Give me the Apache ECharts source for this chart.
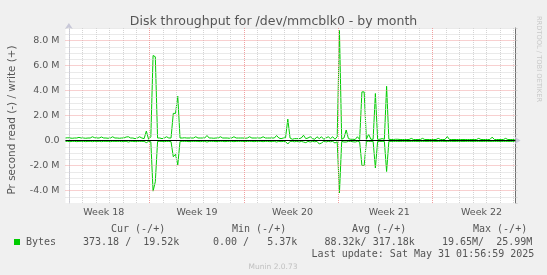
<!DOCTYPE html>
<html><head><meta charset="utf-8">
<script src="https://cdn.jsdelivr.net/npm/echarts@6.0.0/dist/echarts.min.js"></script>
<style>html,body{margin:0;padding:0;background:#f0f0f0;}#c{width:547px;height:275px;}</style>
</head><body><div id="c"></div>
<script>
// ---- text ----
const chartTitle = 'Disk throughput for /dev/mmcblk0 - by month';
const yAxisTitle = 'Pr second read (-) / write (+)';
const sideText = 'RRDTOOL / TOBI OETIKER';
const footerText = 'Munin 2.0.73';
const seriesName = 'Bytes';

// ---- axes (x in days, y in MB/s) ----
const xMin = -0.25, xMax = 33.15;
const sampleStart = -0.25, sampleStep = 1 / 6;   // one sample every 4 hours
const yMin = -5, yMax = 9, yStep = 0.5;
const dayTicks = [0,1,2,3,4,5,6,7,8,9,10,11,12,13,14,15,16,17,18,19,20,21,22,23,24,25,26,27,28,29,30,31,32,33];
const weekTicks = [6, 13, 20, 27];
const weekLabels = ['Week 18', 'Week 19', 'Week 20', 'Week 21', 'Week 22'];
const weekLabelPos = [2.59, 9.51, 16.6, 23.78, 30.63];
const yMajorTicks = [-4, -2, 0, 2, 4, 6, 8];
const yMinorTicks = [-4.5,-3.5,-3,-2.5,-1.5,-1,-0.5,0.5,1,1.5,2.5,3,3.5,4.5,5,5.5,6.5,7,7.5,8.5,9];

// ---- series values (MB/s), write positive, read negative ----
const writeM = [
 0.2,0.22,0.2,0.18,0.2,0.2,0.25,0.2,0.2,0.18,
 0.2,0.2,0.3,0.22,0.2,0.2,0.28,0.2,0.2,0.18,
 0.2,0.3,0.2,0.2,0.18,0.2,0.2,0.28,0.3,0.2,
 0.2,0.15,0.2,0.3,0.2,0.15,0.75,0.1,0.3,6.8,
 6.7,0.2,0.2,0.15,0.2,0.3,0.2,0.2,2.17,2.17,
 3.54,0.2,0.2,0.22,0.2,0.2,0.2,0.2,0.3,0.2,
 0.2,0.2,0.2,0.4,0.2,0.2,0.18,0.2,0.2,0.3,
 0.2,0.2,0.2,0.18,0.2,0.3,0.2,0.2,0.2,0.2,
 0.18,0.2,0.3,0.2,0.2,0.2,0.2,0.2,0.3,0.2,
 0.2,0.2,0.2,0.2,0.4,0.2,0.15,0.2,0.22,1.71,
 0.2,0.1,0.15,0.15,0.15,0.2,0.42,0.15,0.2,0.3,
 0.15,0.1,0.3,0.15,0.3,0.1,0.2,0.3,0.15,0.3,
 0.1,0.3,8.8,0.1,0.2,0.84,0.15,0.1,0.1,0.08,
 0.3,0.08,3.89,3.89,0.1,0.5,0.1,0.1,3.76,0.1,
 0.1,0.15,0.1,4.34,0.1,0.08,0.08,0.1,0.1,0.08,
 0.08,0.08,0.08,0.08,0.17,0.08,0.08,0.08,0.08,0.17,
 0.08,0.08,0.08,0.08,0.08,0.08,0.17,0.08,0.08,0.08,
 0.32,0.08,0.08,0.08,0.08,0.08,0.08,0.08,0.08,0.08,
 0.08,0.08,0.08,0.08,0.17,0.08,0.08,0.08,0.08,0.08,
 0.27,0.08,0.08,0.08,0.08,0.08,0.17,0.08,0.08,0.08,
 0.08
];
const readM = [
 -0.07,-0.07,-0.09,-0.07,-0.07,-0.09,-0.07,-0.07,-0.07,-0.09,
 -0.07,-0.07,-0.09,-0.07,-0.07,-0.07,-0.09,-0.07,-0.07,-0.07,
 -0.09,-0.07,-0.07,-0.07,-0.07,-0.09,-0.07,-0.07,-0.12,-0.07,
 -0.07,-0.09,-0.07,-0.07,-0.07,-0.07,-0.17,-0.07,-0.1,-4.05,
 -3.3,-0.07,-0.07,-0.07,-0.09,-0.07,-0.07,-0.09,-1.3,-1.1,
 -1.95,-0.07,-0.07,-0.07,-0.07,-0.09,-0.07,-0.07,-0.07,-0.07,
 -0.09,-0.07,-0.07,-0.12,-0.07,-0.07,-0.07,-0.09,-0.07,-0.07,
 -0.07,-0.09,-0.07,-0.07,-0.07,-0.09,-0.07,-0.07,-0.07,-0.07,
 -0.09,-0.07,-0.07,-0.07,-0.09,-0.07,-0.07,-0.07,-0.09,-0.07,
 -0.07,-0.09,-0.07,-0.07,-0.12,-0.07,-0.09,-0.07,-0.09,-0.28,
 -0.07,-0.07,-0.1,-0.07,-0.12,-0.07,-0.12,-0.17,-0.07,-0.12,
 -0.07,-0.1,-0.07,-0.28,-0.2,-0.07,-0.12,-0.07,-0.1,-0.07,
 -0.2,-0.1,-4.2,-0.07,-0.12,-0.12,-0.07,-0.07,-0.1,-0.12,
 -0.07,-0.1,-2.0,-2.0,-0.07,-0.07,-0.07,-0.07,-2.2,-0.07,
 -0.07,-0.07,-0.07,-2.48,-0.07,-0.07,-0.07,-0.07,-0.07,-0.07,
 -0.07,-0.07,-0.07,-0.07,-0.07,-0.07,-0.07,-0.07,-0.07,-0.07,
 -0.07,-0.07,-0.07,-0.07,-0.07,-0.07,-0.07,-0.07,-0.07,-0.07,
 -0.07,-0.07,-0.07,-0.07,-0.07,-0.07,-0.07,-0.07,-0.07,-0.07,
 -0.07,-0.07,-0.07,-0.07,-0.07,-0.07,-0.07,-0.07,-0.07,-0.07,
 -0.07,-0.07,-0.07,-0.07,-0.07,-0.07,-0.07,-0.07,-0.07,-0.07,
 -0.07
];

// ---- legend table ----
const legendHeaders = ['Cur (-/+)', 'Min (-/+)', 'Avg (-/+)', 'Max (-/+)'];
const legendValues = ['373.18 /  19.52k', '0.00 /   5.37k', '88.32k/ 317.18k', '19.65M/  25.99M'];
const lastUpdate = 'Last update: Sat May 31 01:56:59 2025';

// ---- styles ----
const GREEN = '#00cc00';
const TXT = '#555555';
const MONO = '"DejaVu Sans Mono", monospace';
const SANS = '"DejaVu Sans", sans-serif';

const toXY = arr => arr.map((v, i) => [sampleStart + i * sampleStep, v]);

const minorLine = { color: '#d4d4d4', type: [1, 1], width: 1 };
const majorLine = { color: '#f0a0a0', type: [1, 1], width: 1 };
const gridLines = []
  .concat(dayTicks.filter(d => weekTicks.indexOf(d) < 0).map(d => ({ xAxis: d, lineStyle: minorLine })))
  .concat(yMinorTicks.map(v => ({ yAxis: v, lineStyle: minorLine })))
  .concat(weekTicks.map(d => ({ xAxis: d, lineStyle: majorLine })))
  .concat(yMajorTicks.filter(v => v !== 0).map(v => ({ yAxis: v, lineStyle: majorLine })));

const chart = echarts.init(document.getElementById('c'), null, { renderer: 'canvas' });
const option = {
  animation: false,
  backgroundColor: '#f0f0f0',
  color: [GREEN],
  title: {
    text: chartTitle, left: 'center', top: 10,
    textStyle: { fontFamily: SANS, fontSize: 12.5, fontWeight: 'normal', color: TXT }
  },
  grid: { left: 65.5, right: 31.5, top: 28, bottom: 72, show: true, backgroundColor: '#ffffff', borderWidth: 0 },
  xAxis: {
    type: 'value', min: xMin, max: xMax,
    axisLine: { show: true, lineStyle: { color: '#c8c8d8', width: 1 }, symbol: ['none', 'arrow'], symbolSize: [6, 6], symbolOffset: [0, 5] },
    axisTick: { show: true, customValues: dayTicks, length: 2, inside: false, lineStyle: { color: '#cccccc' } },
    axisLabel: {
      customValues: weekLabelPos, margin: 5, fontFamily: SANS, fontSize: 9.5, color: TXT,
      formatter: v => {
        let bi = 0, bd = 1e9;
        weekLabelPos.forEach((p, i) => { const d = Math.abs(p - v); if (d < bd) { bd = d; bi = i; } });
        return weekLabels[bi];
      }
    },
    splitLine: { show: false }
  },
  yAxis: [
    {
      type: 'value', min: yMin, max: yMax, interval: yStep,
      axisLine: { show: true, lineStyle: { color: '#c8c8d8', width: 1 }, symbol: ['none', 'arrow'], symbolSize: [6, 6], symbolOffset: [0, 5] },
      axisTick: { show: false },
      axisLabel: {
        margin: 6, fontFamily: SANS, fontSize: 9.5, color: TXT,
        formatter: v => (Math.abs(v % 2) < 1e-9 ? (v === 0 ? '0.0' : v.toFixed(1) + ' M') : '')
      },
      splitLine: { show: false }
    },
    {
      type: 'value', position: 'right', min: yMin, max: yMax, interval: yStep,
      axisLine: { show: true, onZero: false, lineStyle: { color: '#707070', width: 1 } },
      axisTick: { show: true, inside: false, length: 2, lineStyle: { color: '#d0d0d0' } },
      axisLabel: { show: false },
      splitLine: { show: false }
    }
  ],
  series: [
    {
      type: 'line', name: 'grid', data: [[xMin, 0]], showSymbol: false, silent: true, z: 1,
      lineStyle: { opacity: 0 },
      markLine: { silent: true, symbol: ['none', 'none'], label: { show: false }, animation: false, data: gridLines }
    },
    {
      type: 'line', name: seriesName + ' write', data: toXY(writeM), showSymbol: false, z: 2,
      lineStyle: { color: GREEN, width: 1 }, itemStyle: { color: GREEN }
    },
    {
      type: 'line', name: seriesName + ' read', data: toXY(readM), showSymbol: false, z: 2,
      lineStyle: { color: GREEN, width: 1 }, itemStyle: { color: GREEN }
    },
    {
      type: 'line', name: 'rules', data: [[xMin, 0]], showSymbol: false, silent: true, z: 3,
      lineStyle: { opacity: 0 },
      markLine: {
        silent: true, symbol: ['none', 'none'], label: { show: false }, animation: false,
        data: [
          { yAxis: 0, lineStyle: { color: '#000000', type: 'solid', width: 1 } }
        ]
      }
    }
  ],
  graphic: [
    { type: 'text', x: 12, y: 120, rotation: Math.PI / 2,
      style: { text: yAxisTitle, fill: TXT, font: '10.4px ' + SANS, align: 'center', verticalAlign: 'middle' } },
    { type: 'text', x: 539, y: 59, rotation: -Math.PI / 2,
      style: { text: sideText, fill: '#c8c8c8', font: '6.7px ' + SANS, align: 'center', verticalAlign: 'middle' } },
    { type: 'text', x: 111, y: 229, style: { text: legendHeaders[0], fill: TXT, font: '10px ' + MONO, verticalAlign: 'middle' } },
    { type: 'text', x: 232, y: 229, style: { text: legendHeaders[1], fill: TXT, font: '10px ' + MONO, verticalAlign: 'middle' } },
    { type: 'text', x: 352, y: 229, style: { text: legendHeaders[2], fill: TXT, font: '10px ' + MONO, verticalAlign: 'middle' } },
    { type: 'text', x: 473, y: 229, style: { text: legendHeaders[3], fill: TXT, font: '10px ' + MONO, verticalAlign: 'middle' } },
    { type: 'rect', shape: { x: 14, y: 239, width: 6, height: 6 }, style: { fill: GREEN } },
    { type: 'text', x: 26, y: 242, style: { text: seriesName, fill: TXT, font: '10px ' + MONO, verticalAlign: 'middle' } },
    { type: 'text', x: 83, y: 242, style: { text: legendValues[0], fill: TXT, font: '10px ' + MONO, verticalAlign: 'middle' } },
    { type: 'text', x: 213, y: 242, style: { text: legendValues[1], fill: TXT, font: '10px ' + MONO, verticalAlign: 'middle' } },
    { type: 'text', x: 324.5, y: 242, style: { text: legendValues[2], fill: TXT, font: '10px ' + MONO, verticalAlign: 'middle' } },
    { type: 'text', x: 442, y: 242, style: { text: legendValues[3], fill: TXT, font: '10px ' + MONO, verticalAlign: 'middle' } },
    { type: 'text', x: 311.6, y: 254, style: { text: lastUpdate, fill: TXT, font: '10px ' + MONO, verticalAlign: 'middle' } },
    { type: 'text', x: 273, y: 267, style: { text: footerText, fill: '#c0c0c0', font: '7.5px ' + SANS, align: 'center', verticalAlign: 'middle' } }
  ]
};
chart.setOption(option);
</script>
</body></html>
